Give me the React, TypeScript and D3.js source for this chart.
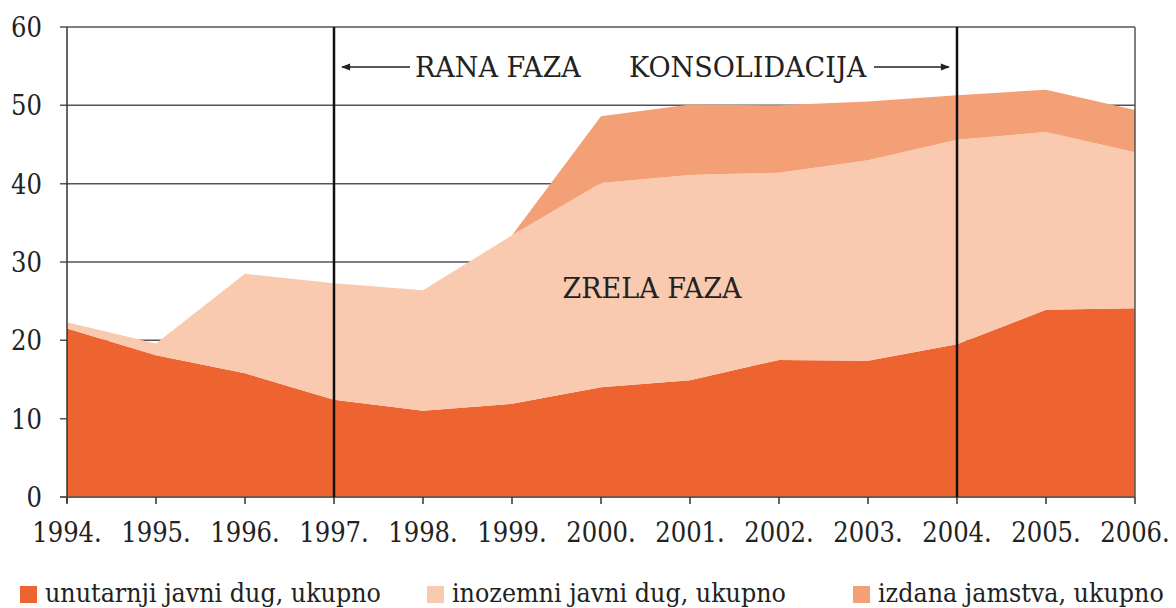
import React from "react";
import * as d3 from "d3";

const years = ["1994.", "1995.", "1996.", "1997.", "1998.", "1999.", "2000.", "2001.", "2002.", "2003.", "2004.", "2005.", "2006."];
const unutarnji = [21.5, 18.1, 15.8, 12.4, 11.0, 11.9, 14.0, 14.9, 17.5, 17.4, 19.5, 23.9, 24.1];
const inozemni = [0.8, 1.5, 12.7, 14.9, 15.4, 21.5, 26.1, 26.2, 23.9, 25.6, 26.1, 22.7, 19.9];
const jamstva = [0, 0, 0, 0, 0, 0, 8.5, 9.0, 8.6, 7.5, 5.7, 5.4, 5.4];
const yTicks = [0, 10, 20, 30, 40, 50, 60];
const seriesNames = ["unutarnji javni dug, ukupno", "inozemni javni dug, ukupno", "izdana jamstva, ukupno"];
const seriesKeys = ["unutarnji", "inozemni", "jamstva"];
const colors = ["#EE6431", "#F9CAB0", "#F4A077"];
const phaseYears = ["1997.", "2004."];

const W = 1176, H = 608;
const txt: React.CSSProperties = {
  fontFamily: '"DejaVu Serif Condensed", "DejaVu Serif", serif',
  fontStretch: "condensed",
  fontSize: 27,
  fill: "#222",
};
const legTxt: React.CSSProperties = { ...txt, fontSize: 26.5 };
const annTxt: React.CSSProperties = {
  fontFamily: '"DejaVu Serif", serif',
  fontSize: 27,
  fill: "#222",
};

export default function App() {
  const x = d3.scalePoint<string>().domain(years).range([67, 1135]);
  const y = d3.scaleLinear().domain([0, 60]).range([497, 27]);

  const rows = years.map((yr, i) => ({ year: yr, unutarnji: unutarnji[i], inozemni: inozemni[i], jamstva: jamstva[i] }));
  const stack = d3.stack<any>().keys(seriesKeys)(rows);
  const area = d3
    .area<any>()
    .x((d) => x(d.data.year) as number)
    .y0((d) => y(d[0]))
    .y1((d) => y(d[1]));

  const x97 = x(phaseYears[0]) as number;
  const x04 = x(phaseYears[1]) as number;
  const arrowY = 67;

  const legendX = [20, 427, 853];

  return (
    <svg width={W} height={H} style={{ position: "absolute", left: 0, top: 0, background: "#fff" }}>
      <defs>
        <marker id="ah" viewBox="0 0 10 10" refX="9" refY="5" markerWidth="12" markerHeight="9" markerUnits="userSpaceOnUse" orient="auto">
          <path d="M0,1 L10,5 L0,9 Z" fill="#222" />
        </marker>
      </defs>
      {yTicks.map((t) => (
        <line key={t} x1={60} x2={1135} y1={y(t)} y2={y(t)} stroke="#555" strokeWidth={1.5} />
      ))}
      {stack.map((s, i) => (
        <path key={i} d={area(s) || ""} fill={colors[i]} />
      ))}
      <line x1={1135} x2={1135} y1={y(60)} y2={y(0)} stroke="#555" strokeWidth={1.5} />
      <line x1={67} x2={67} y1={y(60)} y2={y(0) + 6} stroke="#333" strokeWidth={1.5} />
      <line x1={60} x2={1135} y1={y(0)} y2={y(0)} stroke="#555" strokeWidth={1.5} />
      {years.map((yr) => (
        <line key={yr} x1={x(yr)} x2={x(yr)} y1={y(0)} y2={y(0) + 7} stroke="#333" strokeWidth={1.5} />
      ))}
      {yTicks.map((t) => (
        <text key={t} x={42} y={y(t) + 10} textAnchor="end" style={txt}>
          {t}
        </text>
      ))}
      {years.map((yr) => (
        <text key={yr} x={x(yr)} y={542} textAnchor="middle" style={txt}>
          {yr}
        </text>
      ))}
      <line x1={x97} x2={x97} y1={y(60)} y2={y(0)} stroke="#111" strokeWidth={2.5} />
      <line x1={x04} x2={x04} y1={y(60)} y2={y(0)} stroke="#111" strokeWidth={2.5} />
      <line x1={410} x2={x97 + 8} y1={arrowY} y2={arrowY} stroke="#222" strokeWidth={1.5} markerEnd="url(#ah)" />
      <text x={415} y={77} style={annTxt}>RANA FAZA</text>
      <text x={629} y={77} style={annTxt}>KONSOLIDACIJA</text>
      <line x1={874} x2={x04 - 8} y1={arrowY} y2={arrowY} stroke="#222" strokeWidth={1.5} markerEnd="url(#ah)" />
      <text x={652} y={298} textAnchor="middle" style={annTxt}>ZRELA FAZA</text>
      {seriesNames.map((n, i) => (
        <g key={n}>
          <rect x={legendX[i]} y={586} width={17} height={17} fill={colors[i]} />
          <text x={legendX[i] + 25} y={602} style={legTxt}>{n}</text>
        </g>
      ))}
    </svg>
  );
}
